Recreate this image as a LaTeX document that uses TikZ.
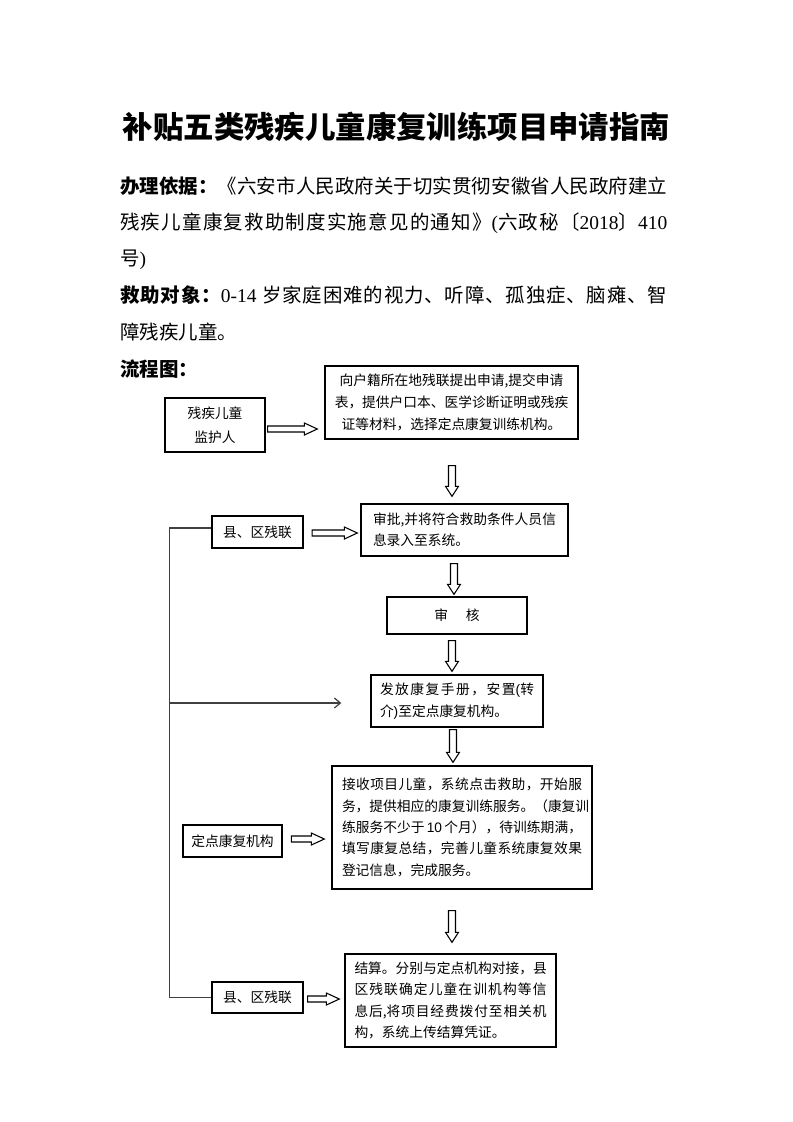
\documentclass[tikz,border=0pt]{standalone}
\usepackage{fontspec}
\setmainfont{Noto Sans CJK SC}
\newfontfamily\latf{Liberation Serif}
\newfontfamily\lsansf{Liberation Sans}
\newcommand\lat[1]{{\latf #1}}
\newcommand\lsans[1]{{\lsansf #1}}
\usetikzlibrary{calc,arrows.meta}
\makeatletter
\XeTeXinterchartokenstate=1
\count@="3000
\loop\ifnum\count@<"A000 \XeTeXcharclass\count@=9 \advance\count@ by 1 \repeat
\count@="FF00
\loop\ifnum\count@<"FFF0 \XeTeXcharclass\count@=9 \advance\count@ by 1 \repeat
\XeTeXinterchartoks 9 9 = {\hskip 0pt plus 1pt\relax}
\makeatother
\newcommand\boxfont{\fontsize{10.3}{16}\selectfont}
\newcommand\jl[2]{\makebox[#1][s]{#2}}
\newcommand\hollowH[2]{\draw[hollow] ($#1+(0,-3)$) -- ($#2+(-13,-3)$) -- ($#2+(-13,-6)$) -- #2 -- ($#2+(-13,6)$) -- ($#2+(-13,3)$) -- ($#1+(0,3)$) -- cycle;}
\newcommand\hollowV[2]{\draw[hollow] ($#1+(-3.5,0)$) -- ($#2+(-3.5,-10)$) -- ($#2+(-6.5,-10)$) -- #2 -- ($#2+(6.5,-10)$) -- ($#2+(3.5,-10)$) -- ($#1+(3.5,0)$) -- cycle;}
\begin{document}
\begin{tikzpicture}[x=0.75pt,y=-0.75pt,
  box/.style={draw,line width=1pt,inner sep=0pt,font=\boxfont},
  hollow/.style={draw,line width=0.8pt,fill=white,line join=miter},
  link/.style={draw=black!75,line width=0.9pt},
  para/.style={anchor=base west,inner sep=0pt,font=\fontsize{14.6}{18}\selectfont}]
\path[fill=white] (0,0) rectangle (793,1122);
\useasboundingbox (0,0) rectangle (793,1122);

\node[anchor=base,inner sep=0pt,font=\bfseries\fontsize{22.8}{28}\selectfont] (title) at (396.5,138) {补贴五类残疾儿童康复训练项目申请指南};

\node[para] (l1) at (120,193.4) {\jl{410.25pt}{\textbf{办理依据：}《六安市人民政府关于切实贯彻安徽省人民政府建立}};
\node[para] (l2) at (120,229.4) {\jl{410.25pt}{残疾儿童康复救助制度实施意见的通知》\lat{(}六政秘〔\lat{2018}〕\lat{410}}};
\node[para] (l3) at (120,265.4) {号\lat{)}};
\node[para] (l4) at (120,302.4) {\jl{410.25pt}{\textbf{救助对象：}\lat{0-14} 岁家庭困难的视力、听障、孤独症、脑瘫、智}};
\node[para] (l5) at (120,339.4) {障残疾儿童。};
\node[para] (l6) at (120,376.4) {\textbf{流程图：}};

\node[box,minimum width=75pt,minimum height=40.5pt,align=center,font=\fontsize{10.3}{18}\selectfont] (b1) at (215,425) {残疾儿童\\监护人};
\node[box,minimum width=189.75pt,minimum height=54.75pt,align=center,font=\fontsize{10.3}{16.5}\selectfont] (b2) at (451.5,402.5) {向户籍所在地残联提出申请,提交申请\\表，提供户口本、医学诊断证明或残疾\\证等材料，选择定点康复训练机构。};
\node[box,minimum width=68.25pt,minimum height=24pt] (b4) at (257.5,532) {县、区残联};
\node[box,minimum width=155.25pt,minimum height=39pt,text width=137.25pt,inner xsep=9pt,align=left] (b3) at (464.5,530) {\jl{137.25pt}{审批,并将符合救助条件人员信}\\息录入至系统。};
\node[box,minimum width=105pt,minimum height=27.75pt] (b5) at (457,615.5) {审\hspace{1.3em}核};
\node[box,minimum width=129pt,minimum height=39pt,text width=115.5pt,inner xsep=6.75pt,align=left] (b6) at (457,701) {\jl{115.5pt}{发放康复手册，安置\lsans{(}转}\\介\lsans{)}至定点康复机构。};
\node[box,minimum width=74.25pt,minimum height=24pt] (b8) at (232.5,841) {定点康复机构};
\node[box,minimum width=195pt,minimum height=92.25pt,text width=180pt,inner xsep=7.5pt,align=left] (b7) at (462,827.5) {\jl{180pt}{接收项目儿童，系统点击救助，开始服}\\\jl{180pt}{务，提供相应的康复训练服务。（康复训}\\\jl{180pt}{练服务不少于\,\lsans{10}\,个月），待训练期满，}\\\jl{180pt}{填写康复总结，完善儿童系统康复效果}\\登记信息，完成服务。};
\node[box,minimum width=68.25pt,minimum height=23.25pt] (b10) at (257.5,997.5) {县、区残联};
\node[box,minimum width=158.25pt,minimum height=69.75pt,text width=144pt,inner xsep=7.125pt,align=left] (b9) at (450.5,1000.5) {\jl{144pt}{结算。分别与定点机构对接，县}\\\jl{144pt}{区残联确定儿童在训机构等信}\\\jl{144pt}{息后,将项目经费拨付至相关机}\\构，系统上传结算凭证。};

% hollow arrows
\coordinate (a1s) at ($(b1.east)+(2,4)$);
\coordinate (a1e) at ($(b2.west)+(-7,26.5)$);
\hollowH{(a1s)}{(a1e)}
\coordinate (a2s) at ($(b2.south)+(0.5,26)$);
\coordinate (a2e) at ($(b3.north)+(-12.5,-7)$);
\hollowV{(a2s)}{(a2e)}
\coordinate (a3s) at ($(b4.east)+(8.5,1)$);
\coordinate (a3e) at ($(b3.west)+(-3,3)$);
\hollowH{(a3s)}{(a3e)}
\coordinate (a4s) at ($(b3.south)+(-10.5,7)$);
\coordinate (a4e) at ($(b5.north)+(-3,-2)$);
\hollowV{(a4s)}{(a4e)}
\coordinate (a5s) at ($(b5.south)+(-5,6)$);
\coordinate (a5e) at ($(b6.north)+(-5,-3)$);
\hollowV{(a5s)}{(a5e)}
\coordinate (a6s) at ($(b6.south)+(-4,2)$);
\coordinate (a6e) at ($(b7.north)+(-9,-3)$);
\hollowV{(a6s)}{(a6e)}
\coordinate (a7s) at ($(b8.east)+(8.75,-2)$);
\coordinate (a7e) at ($(b7.west)+(-7,11.5)$);
\hollowH{(a7s)}{(a7e)}
\coordinate (a8s) at ($(b7.south)+(-10,21)$);
\coordinate (a8e) at ($(b9.north)+(1.5,-11)$);
\hollowV{(a8s)}{(a8e)}
\coordinate (a9s) at ($(b10.east)+(4,1.5)$);
\coordinate (a9e) at ($(b9.west)+(-5,-1.5)$);
\hollowH{(a9s)}{(a9e)}

% left bracket line
\draw[link] ($(b4.west)+(0,-4)$) -- ++(-42,0) coordinate (lc1) |- (b10.west);
\draw[link,-{Straight Barb[length=4.5pt,width=7.5pt]}] ($(lc1|-b6.west)+(0,2)$) -- ($(b6.west)+(-29,2)$);
\end{tikzpicture}
\end{document}
